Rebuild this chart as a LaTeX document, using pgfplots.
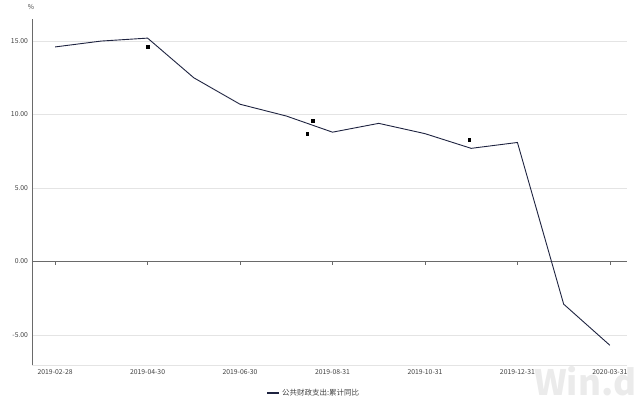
\documentclass[border=0pt]{standalone}
\usepackage{fontspec}
\setmainfont{Noto Sans CJK SC}
\usepackage{pgfplots}
\pgfplotsset{compat=1.18}
\definecolor{lineC}{HTML}{1E2340}
\definecolor{gridC}{HTML}{E4E4E4}
\definecolor{axC}{HTML}{6A6A6A}
\definecolor{txtC}{HTML}{404040}
\begin{document}
\begin{tikzpicture}
\useasboundingbox (0,0) rectangle (640pt,399pt);
\node[text=black!8, font=\fontsize{35}{35}\selectfont\bfseries, anchor=base west, inner sep=0] at (534pt,4pt) {Win.d};
\begin{axis}[
  at={(32pt,34pt)}, anchor=south west,
  scale only axis, width=595pt, height=346pt,
  xmin=-0.5, xmax=12.37, ymin=-7.04, ymax=16.5,
  axis x line*=none,
  axis y line*=left,
  y axis line style={axC, line width=0.8pt},
  separate axis lines,
  x axis line style={draw=none},
  ytick={-5,0,5,10,15},
  yticklabels={-5.00,0.00,5.00,10.00,15.00},
  xtick={0,2,4,6,8,10,12},
  xticklabels={2019-02-28,2019-04-30,2019-06-30,2019-08-31,2019-10-31,2019-12-31,2020-03-31},
  major tick length=0pt,
  ymajorgrids, grid style={gridC, line width=0.6pt},
  tick label style={font=\fontsize{6.8}{7.5}\selectfont, text=txtC},
  /pgf/number format/assume math mode=true,
  xticklabel style={yshift=-1.5pt},
  yticklabel style={xshift=-0.5pt},
  legend style={at={(0.474,-0.081)}, anchor=center, draw=none, fill=none, font=\fontsize{7.5}{8}\selectfont, text=txtC, legend columns=1},
  legend image code/.code={\draw[#1, line width=1.2pt] (0,0) -- (12pt,0);},
  clip=false,
]
\draw[gridC, line width=0.6pt] (axis cs:-0.5,-7.04) -- (axis cs:12.37,-7.04);
\draw[axC, line width=0.8pt] (axis cs:-0.5,0) -- (axis cs:12.37,0);
\pgfplotsinvokeforeach{0,2,4,6,8,10,12}{\draw[axC, line width=0.6pt] (axis cs:#1,0) -- ([yshift=-3pt]axis cs:#1,0);}
\addplot[lineC, line width=0.9pt, mark=none] coordinates {
(0,14.6) (1,15.0) (2,15.2) (3,12.5) (4,10.7) (5,9.9) (6,8.8) (7,9.4) (8,8.7) (9,7.7) (10,8.1) (11,-2.9) (12,-5.7)
};
\addlegendentry{公共财政支出:累计同比}
\addplot[only marks, mark=square*, mark size=1.3pt, black, forget plot] coordinates {
(2,14.63) (5.57,9.59) (5.45,8.71) (8.96,8.3)
};
\end{axis}
\node[font=\fontsize{6.8}{7.5}\selectfont, text=txtC] at (31pt,392pt) {\%};
\end{tikzpicture}
\end{document}
